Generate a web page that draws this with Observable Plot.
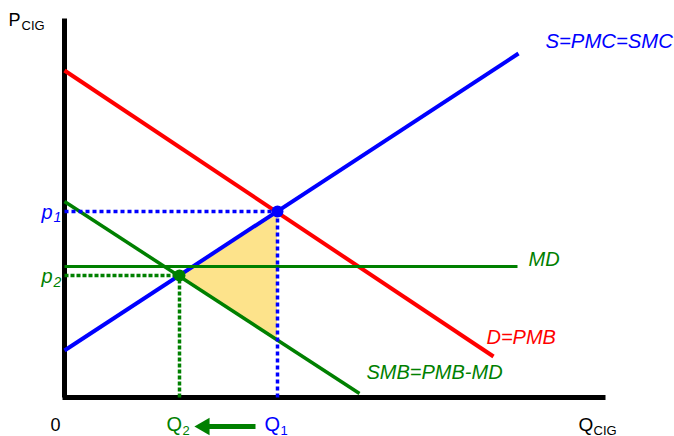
<!DOCTYPE html>
<html><head><meta charset="utf-8">
<script src="https://cdn.jsdelivr.net/npm/d3@7"></script>
<script src="https://cdn.jsdelivr.net/npm/@observablehq/plot@0.6"></script>
<style>html,body{margin:0;padding:0;background:#fff;} svg{display:block;overflow:visible;}</style>
</head><body><div id="chart"></div>
<script>
// Curves (quantity, price) in chart units
const curveNames = ["S=PMC=SMC", "D=PMB", "SMB=PMB-MD", "MD"];
const curveQStart = [0, 0, 0, 0];
const curvePStart = [4.7, 32.7, 19.6, 13.1];
const curveQEnd = [45.4, 42.9, 29.5, 45.3];
const curvePEnd = [34.4, 4.1, 0.4, 13.1];
// Equilibria: 1 = market, 2 = social optimum
const eqNames = ["1", "2"];
const eqQ = [21.3, 11.5];
const eqP = [18.6, 12.2];
// Deadweight-loss triangle (between SMB below and S above, from Q2 to Q1)
const dwlQ = [11.5, 21.3];
const dwlLow = [12.2, 5.7];
const dwlHigh = [12.2, 18.6];

const BLUE = "#0000ff", RED = "#ff0000", GREEN = "#008000", YELLOW = "#fde38b";
const curveColors = [BLUE, RED, GREEN, GREEN];
const curveWidths = [4, 4, 3.5, 3];
const FONT = "Liberation Sans, Arial, Helvetica, sans-serif";
const QMAX = 54.1, PMAX = 37.9, ARROW_P = -2.9;

const curves = curveNames.map((name, i) => ({name, x1: curveQStart[i], y1: curvePStart[i], x2: curveQEnd[i], y2: curvePEnd[i], color: curveColors[i], w: curveWidths[i]}));
const eq = eqNames.map((n, i) => ({n, q: eqQ[i], p: eqP[i], color: i === 0 ? BLUE : GREEN}));
const dwl = dwlQ.map((q, i) => ({q, lo: dwlLow[i], hi: dwlHigh[i]}));

function label(x, y, text, o) {
  return Plot.text([{x, y, text}], {x: "x", y: "y", text: "text", fontFamily: FONT, lineAnchor: "bottom", ...o});
}

const marks = [
  Plot.areaY(dwl, {x: "q", y1: "lo", y2: "hi", fill: YELLOW}),
  Plot.link([{a: -0.2, b: QMAX, y: 0}], {x1: "a", x2: "b", y1: "y", y2: "y", stroke: "black", strokeWidth: 5}),
  Plot.link([{a: 0, b: PMAX, x: 0}], {x1: "x", x2: "x", y1: "a", y2: "b", stroke: "black", strokeWidth: 5}),
  ...curves.map(c => Plot.link([c], {x1: "x1", y1: "y1", x2: "x2", y2: "y2", stroke: c.color, strokeWidth: c.w})),
  ...eq.map(e => Plot.link([e], {x1: () => 0, x2: "q", y1: "p", y2: "p", stroke: e.color, strokeWidth: 3.5, strokeDasharray: e.n === "1" ? "4,3" : "4,2"})),
  ...eq.map(e => Plot.link([e], {x1: "q", x2: "q", y1: () => 0, y2: "p", stroke: e.color, strokeWidth: 3.5, strokeDasharray: e.n === "1" ? "4,3" : "4,2"})),
  Plot.dot(eq, {x: "q", y: "p", r: 6, fill: "color", stroke: "none"}),
  // curve labels
  label(curveQEnd[0], curvePEnd[0], curveNames[0], {dx: 27, dy: -6, textAnchor: "start", fill: BLUE, fontSize: 20.3, fontStyle: "italic"}),
  label(curveQEnd[1], curvePEnd[1], curveNames[1], {dx: -7, dy: -13, textAnchor: "start", fill: RED, fontSize: 20, fontStyle: "italic"}),
  label(curveQEnd[2], curvePEnd[2], curveNames[2], {dx: 7, dy: -15, textAnchor: "start", fill: GREEN, fontSize: 20, fontStyle: "italic"}),
  label(curveQEnd[3], curvePEnd[3], curveNames[3], {dx: 11, dy: -1, textAnchor: "start", fill: GREEN, fontSize: 20, fontStyle: "italic"}),
  // axis titles
  label(0, PMAX, "P", {dx: -56, dy: 7, textAnchor: "start", fill: "black", fontSize: 18}),
  label(0, PMAX, "CIG", {dx: -43, dy: 11, textAnchor: "start", fill: "black", fontSize: 13}),
  label(QMAX, 0, "Q", {dx: -27, dy: 33, textAnchor: "start", fill: "black", fontSize: 19}),
  label(QMAX, 0, "CIG", {dx: -12, dy: 37, textAnchor: "start", fill: "black", fontSize: 13}),
  label(0, 0, "0", {dx: -9, dy: 33, textAnchor: "middle", fill: "black", fontSize: 18}),
  // equilibrium labels
  ...eq.flatMap(e => [
    label(e.q, 0, "Q", {dx: -13, dy: 33, textAnchor: "start", fill: e.color, fontSize: 20}),
    label(e.q, 0, e.n, {dx: 3, dy: 37, textAnchor: "start", fill: e.color, fontSize: 13}),
    label(0, e.p, "p", {dx: -12, dy: 7, textAnchor: "end", fill: e.color, fontSize: 20, fontStyle: "italic"}),
    label(0, e.p, e.n, {dx: -11, dy: e.n === "1" ? 10 : 11, textAnchor: "start", fill: e.color, fontSize: 14, fontStyle: "italic"})
  ]),
  // arrow Q1 -> Q2: shaft + filled head pointing left
  Plot.link([{a: eqQ[0], b: eqQ[1]}], {x1: d => d.a - 2.2, x2: d => d.b + 2.8, y1: () => ARROW_P, y2: () => ARROW_P, stroke: GREEN, strokeWidth: 5}),
  Plot.dot([{b: eqQ[1]}], {x: d => d.b + 2.5, y: () => ARROW_P, symbol: "triangle", rotate: -90, r: 6.5, fill: GREEN, stroke: "none"})
];

const chart = Plot.plot({
  width: 674, height: 436,
  marginLeft: 64, marginRight: 70, marginTop: 17, marginBottom: 39,
  x: {domain: [0, 54], axis: null},
  y: {domain: [0, 38], axis: null},
  style: {background: "white", overflow: "visible"},
  marks
});
document.getElementById("chart").appendChild(chart);
</script>
</body></html>
